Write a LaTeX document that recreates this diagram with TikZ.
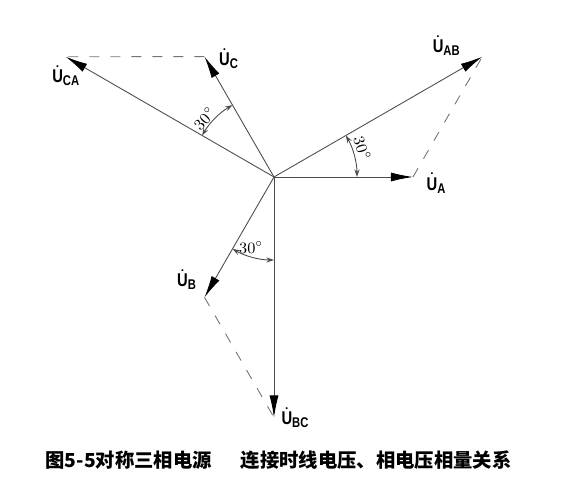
\documentclass[tikz,border=0pt]{standalone}
\usepackage{fontspec}
\newfontfamily\cjkfont{Noto Sans CJK SC}
\newfontfamily\lblfont{Liberation Sans}[FakeStretch=0.8]
\usepackage{tikz}
\usetikzlibrary{arrows.meta,calc,positioning}
\def\PhLen{2.78}
\def\LnLen{4.81}
\def\ArcRad{1.66}
\newcommand{\phlabel}[1]{{\lblfont\bfseries$\dot{\mbox{U}}$\raisebox{-0.3ex}{\footnotesize #1}}}
\tikzset{
	phasor/.style={draw=black!70, line width=0.5pt, -{Latex[length=4.4mm,width=1.8mm,color=black]}},
	helper/.style={draw=black!55, line width=0.5pt, dash pattern=on 2mm off 2.2mm},
	anglearc/.style={draw=black!70, line width=0.5pt, {Stealth[length=1.5mm,width=1mm]}-{Stealth[length=1.5mm,width=1mm]}},
	vlabel/.style={inner sep=1pt, font=\fontsize{10.5}{12}\selectfont},
	anglabel/.style={inner sep=0.5pt, font=\fontsize{9}{10}\selectfont}
}
\begin{document}
\begin{tikzpicture}
			\useasboundingbox (-5.48,-6.46) rectangle (5.8,3.54);
			\coordinate (o) at (0,0);
			% 
			\coordinate (ua) at (0:\PhLen);
			\coordinate (ub) at (240:\PhLen);
			\coordinate (uc) at (120:\PhLen);
			% 
			\coordinate (uab) at (30:\LnLen);
			\coordinate (ubc) at (270:\LnLen);
			\coordinate (uca) at (150:\LnLen);
			% 
			\draw[helper] (ua) -- (uab);
			\draw[helper] (ub) -- (ubc);
			\draw[helper] (uc) -- (uca);
			% 
			\draw[phasor] (o) -- (ua);
			\draw[phasor] (o) -- (ub);
			\draw[phasor] (o) -- (uc);
			\draw[phasor] (o) -- (uab);
			\draw[phasor] (o) -- (ubc);
			\draw[phasor] (o) -- (uca);
			% 
			\node[vlabel] (lua) at ($(ua)+(0.46,-0.12)$) {\phlabel{A}};
			\node[vlabel] (lub) at ($(ub)+(-0.36,0.36)$) {\phlabel{B}};
			\node[vlabel] (luc) at ($(uc)+(0.48,-0.04)$) {\phlabel{C}};
			\node[vlabel] (luab) at ($(uab)+(-0.72,0.22)$) {\phlabel{AB}};
			\node[vlabel] (lubc) at ($(ubc)+(0.42,0)$) {\phlabel{BC}};
			\node[vlabel] (luca) at ($(uca)+(0,-0.38)$) {\phlabel{CA}};
			% 
			\draw[anglearc] (0:\ArcRad) arc[start angle=0,end angle=30,radius=\ArcRad];
			\draw[anglearc] (120:\ArcRad) arc[start angle=120,end angle=150,radius=\ArcRad];
			\draw[anglearc] (240:\ArcRad) arc[start angle=240,end angle=270,radius=\ArcRad];
			\node[anglabel,rotate=-72] (ang1) at (18:1.86) {$30^{\circ}$};
			\node[anglabel,rotate=48] (ang2) at (140:1.82) {$30^{\circ}$};
			\node[anglabel] (ang3) at (252:1.48) {$30^{\circ}$};
			% 
			\node[font=\cjkfont\bfseries\fontsize{11}{13}\selectfont] (cap) at (0.09,-5.66) {图5-5对称三相电源\hspace{1.5em}连接时线电压、相电压相量关系};
		\end{tikzpicture}
\end{document}
